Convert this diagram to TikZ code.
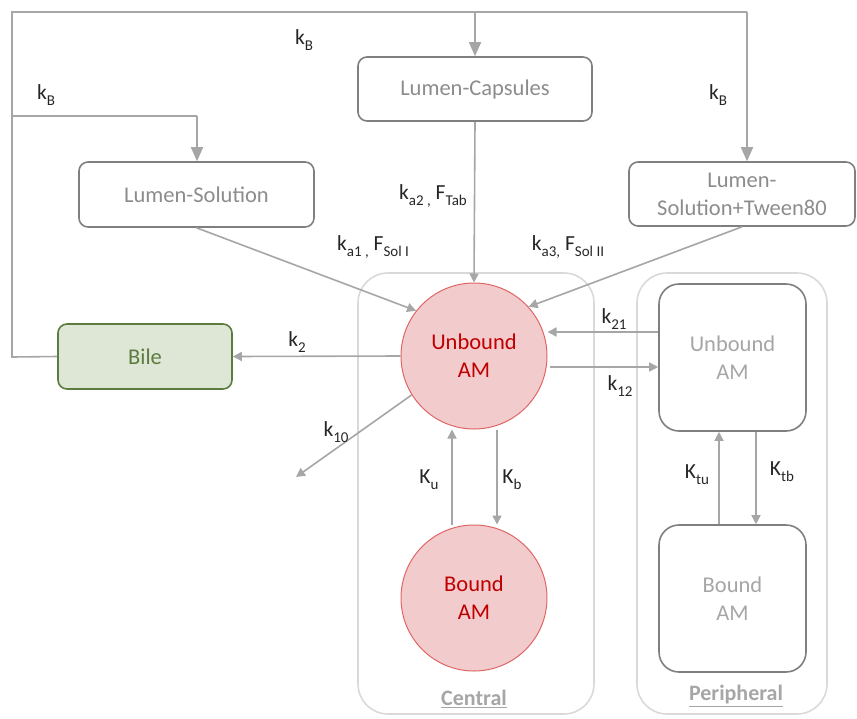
\documentclass[tikz,border=0pt]{standalone}
\usepackage{fontspec}
\setmainfont{Carlito}
\usetikzlibrary{arrows.meta}
\definecolor{arr}{HTML}{A6A6A6}
\definecolor{boxline}{HTML}{7F7F7F}
\definecolor{boxtxt}{HTML}{8C8C8C}
\definecolor{cont}{HTML}{D9D9D9}
\definecolor{pinkfill}{HTML}{F2CBCC}
\definecolor{pinkline}{HTML}{E06666}
\definecolor{redtxt}{HTML}{C00000}
\definecolor{bilefill}{HTML}{DEE7D5}
\definecolor{bileline}{HTML}{5B7B3F}
\definecolor{periph}{HTML}{A6A6A6}
\newcommand\sbs[1]{\raisebox{-0.28em}{\fontsize{15}{15}\selectfont #1}}
\tikzset{
  lumen/.style={draw=boxline, line width=1.6pt, rounded corners=9pt, text=boxtxt, align=center, font=\fontsize{22.5}{28}\selectfont, inner sep=0pt},
  cpt/.style={circle, draw=pinkline, fill=pinkfill, line width=1pt, minimum size=146pt, inner sep=0pt, text=redtxt, align=center, font=\fontsize{22.5}{28}\selectfont},
  pbox/.style={draw=boxline, line width=1.6pt, rounded corners=20pt, minimum width=147pt, minimum height=147pt, inner sep=0pt, text=periph, align=center, font=\fontsize{22.5}{28}\selectfont},
  container/.style={draw=cont, line width=1.6pt, rounded corners=30pt},
  flow/.style={draw=arr, line width=1.6pt, -{Triangle[length=9pt,width=9pt]}},
  bigflow/.style={draw=arr, line width=1.6pt, -{Triangle[length=14pt,width=12pt]}},
  conn/.style={draw=arr, line width=1.6pt},
  lbl/.style={font=\fontsize{21.5}{24}\selectfont, text=black!85, inner sep=0pt},
  contlbl/.style={font=\fontsize{22}{24}\selectfont\bfseries, text=arr, inner sep=0pt}
}
\begin{document}
\begin{tikzpicture}[x=1pt,y=-1pt]
\useasboundingbox (0,0) rectangle (857,718);
% containers
\draw[container] (358,273) rectangle (594,714);
\draw[container] (637,273) rectangle (827,714);
\node[contlbl] (lc) at (474,699) {\underline{Central}};
\node[contlbl] (lp) at (736,696) {\underline{Peripheral}};
% nodes
\node[lumen, minimum width=234pt, minimum height=64pt] (cap) at (475,89) {Lumen-Capsules};
\node[lumen, minimum width=235pt, minimum height=65pt] (sol) at (196.5,194.5) {Lumen-Solution};
\node[lumen, minimum width=226pt, minimum height=64pt] (tw) at (742,194) {Lumen-\\Solution+Tween80};
\node[draw=bileline, fill=bilefill, line width=1.6pt, rounded corners=9pt, minimum width=174pt, minimum height=65pt, text=bileline, font=\fontsize{22.5}{28}\selectfont, inner sep=0pt] (bile) at (145,356.5) {Bile};
\node[cpt] (ub) at (474,356) {Unbound\\AM};
\node[cpt] (bd) at (474,598) {Bound\\AM};
\node[pbox] (pub) at (732.5,357.5) {Unbound\\AM};
\node[pbox] (pbd) at (732.5,598.5) {Bound\\AM};
% bile recirculation
\coordinate (c1) at (12,357);
\coordinate (c2) at (12,12);
\coordinate (c3) at (475,12);
\coordinate (c4) at (747,12);
\coordinate (c5) at (12,116);
\coordinate (c6) at (197,116);
\draw[conn] (bile.west) -- (c1) -- (c2) -- (c4);
\draw[bigflow] (c3) -- (cap.north);
\draw[bigflow] (c4) -- (tw.north -| c4);
\draw[conn] (c5) -- (c6);
\draw[bigflow] (c6) -- (sol.north -| c6);
% absorption
\draw[flow] (sol.south) -- (ub.142);
\draw[flow] (cap.south) -- (ub.north);
\draw[flow] (tw.south) -- (ub.42);
% central
\draw[flow] (ub.west) -- (bile.east);
\coordinate (sink) at (296,477);
\draw[flow] (ub.212) -- (sink);
\draw[flow] (pub.west |- 0,332) -- (ub.east |- 0,332);
\draw[flow] (550,367) -- (pub.west |- 0,367);
\draw[flow] (bd.north -| 452,0) -- (ub.south -| 452,0);
\draw[flow] (ub.south -| 497,0) -- (bd.north -| 497,0);
\draw[flow] (pbd.north -| 719,0) -- (pub.south -| 719,0);
\draw[flow] (pub.south -| 756,0) -- (pbd.north -| 756,0);
% labels
\node[lbl] (l1) at (304,40) {k\sbs{B}};
\node[lbl] (l2) at (46,95) {k\sbs{B}};
\node[lbl] (l3) at (718,95) {k\sbs{B}};
\node[lbl] (l4) at (433,196) {k\sbs{a2 ,} F\sbs{Tab}};
\node[lbl] (l5) at (373,247) {k\sbs{a1 ,} F\sbs{Sol I}};
\node[lbl] (l6) at (568,247) {k\sbs{a3,} F\sbs{Sol II}};
\node[lbl] (l7) at (297,342) {k\sbs{2}};
\node[lbl] (l8) at (336,432) {k\sbs{10}};
\node[lbl] (l9) at (614,319) {k\sbs{21}};
\node[lbl] (l10) at (620,386) {k\sbs{12}};
\node[lbl] (l11) at (429,480) {K\sbs{u}};
\node[lbl] (l12) at (512,480) {K\sbs{b}};
\node[lbl] (l13) at (697,475) {K\sbs{tu}};
\node[lbl] (l14) at (782,472) {K\sbs{tb}};
\end{tikzpicture}
\end{document}
